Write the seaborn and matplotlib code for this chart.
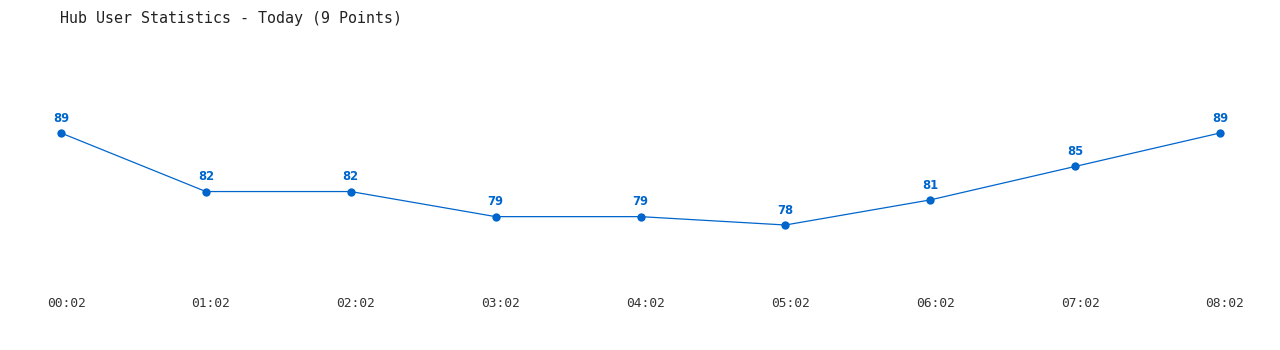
import matplotlib
matplotlib.use("Agg")
import matplotlib.pyplot as plt
import matplotlib.transforms as mtransforms
import seaborn as sns
import pandas as pd

times = ["00:02", "01:02", "02:02", "03:02", "04:02", "05:02", "06:02", "07:02", "08:02"]
users = [89, 82, 82, 79, 79, 78, 81, 85, 89]

sns.set_theme(style="white")
plt.rcParams['font.family'] = ['DejaVu Sans Mono', 'DejaVu Sans']

W, H = 1280, 350
fig = plt.figure(figsize=(W / 100, H / 100), dpi=100)
left, right = 61, 1220
top, bottom = 133, 225
ax = fig.add_axes([left / W, (H - bottom) / H, (right - left) / W, (bottom - top) / H])

df = pd.DataFrame({"idx": range(len(times)), "users": users})
color = "#0066cc"
sns.lineplot(data=df, x="idx", y="users", ax=ax, color=color, linewidth=0.9,
             marker="o", markersize=6, markeredgewidth=0, clip_on=False)
for line in ax.lines:
    line.set_clip_on(False)

ax.set_xlim(0, len(times) - 1)
ax.set_ylim(min(users), max(users))
for i, v in enumerate(users):
    ax.annotate(str(v), (i, v), xytext=(0, 6), textcoords="offset points",
                ha="center", va="bottom", fontsize=8.3, fontweight="bold",
                color=color, family="DejaVu Sans", annotation_clip=False)

ax.set_xticks(range(len(times)))
ax.set_xticklabels(times, fontsize=9.3, color="#333333")
ax.tick_params(axis="x", length=0, pad=52)
ax.set_yticks([])
ax.set_xlabel("")
ax.set_ylabel("")
for s in ax.spines.values():
    s.set_visible(False)
offset = mtransforms.ScaledTranslation(5 / 100, 0, fig.dpi_scale_trans)
for lbl in ax.get_xticklabels():
    lbl.set_transform(lbl.get_transform() + offset)

fig.text(60 / W, 1 - 18 / H, "Hub User Statistics - Today (9 Points)",
         fontsize=10.8, color="#222222", ha="left", va="center")

fig.savefig("out.png", dpi=100, facecolor="white")
